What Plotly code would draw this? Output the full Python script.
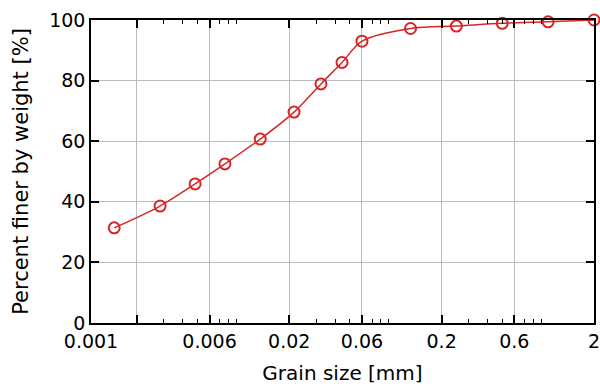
import plotly.graph_objects as go

grain_size_mm = [0.00142, 0.00284, 0.00482, 0.00757, 0.0129, 0.0215, 0.0323, 0.0444, 0.060, 0.125, 0.25, 0.5, 1.0, 2.0]
percent_finer = [31.4, 38.6, 45.9, 52.5, 60.7, 69.6, 78.9, 86.0, 93.0, 97.2, 98.0, 98.9, 99.4, 100.0]

x_tickvals = [0.001, 0.002, 0.006, 0.02, 0.06, 0.2, 0.6, 2]
x_ticktext = ["0.001", "", "0.006", "0.02", "0.06", "0.2", "0.6", "2"]
x_minor = [0.003, 0.004, 0.005, 0.007, 0.008, 0.009,
           0.03, 0.04, 0.05, 0.07, 0.08, 0.09,
           0.3, 0.4, 0.5, 0.7, 0.8, 0.9]
y_tickvals = [0, 20, 40, 60, 80, 100]

red = "#d62728"
font = "DejaVu Sans"

fig = go.Figure()
fig.add_trace(go.Scatter(
    x=grain_size_mm, y=percent_finer, mode="lines+markers",
    line=dict(color=red, width=1.5, shape="spline", smoothing=0.8),
    marker=dict(symbol="circle-open", size=11, color=red, line=dict(width=2, color=red)),
    showlegend=False, cliponaxis=False,
))

fig.update_layout(
    width=600, height=387,
    margin=dict(l=91, r=6, t=20, b=64),
    plot_bgcolor="white", paper_bgcolor="white",
    font=dict(family=font, size=19, color="black"),
    xaxis=dict(
        type="log", range=[-3, 0.30103], automargin=False,
        tickmode="array", tickvals=x_tickvals, ticktext=x_ticktext,
        ticks="inside", ticklen=8, tickwidth=1.5, tickcolor="black",
        showline=True, linecolor="black", linewidth=1.5, mirror="ticks",
        showgrid=True, gridcolor="#bdbdbd", gridwidth=1,
        zeroline=False, ticklabeloverflow="allow",
        minor=dict(tickmode="array", tickvals=x_minor, ticks="inside", ticklen=4,
                   tickwidth=1.2, tickcolor="black", showgrid=False),
        title=dict(text="Grain size [mm]", font=dict(size=20)),
        tickfont=dict(size=19),
    ),
    yaxis=dict(
        range=[0, 100], automargin=False,
        tickmode="array", tickvals=y_tickvals,
        ticks="inside", ticklen=8, tickwidth=1.5, tickcolor="black",
        showline=True, linecolor="black", linewidth=1.5, mirror="ticks",
        showgrid=True, gridcolor="#bdbdbd", gridwidth=1,
        zeroline=False, ticklabeloverflow="allow",
        title=dict(text="Percent finer by weight [%]", font=dict(size=21)),
        tickfont=dict(size=19),
    ),
)

fig.write_html("out.html", config={"displayModeBar": False},
               post_script="document.body.style.margin='0';")
